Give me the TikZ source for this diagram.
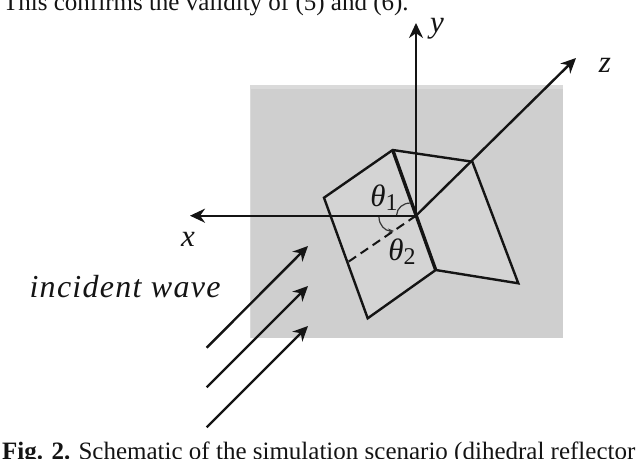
\documentclass[tikz,border=0pt]{standalone}
\usepackage{fontspec}
\setmainfont{Liberation Serif}
\usetikzlibrary{arrows.meta}
\definecolor{plate}{HTML}{CFCFCF}
\definecolor{plateedge}{HTML}{DADADA}
\definecolor{panel}{HTML}{D4D4D4}
\definecolor{ink}{HTML}{141414}
\tikzset{
  axis/.style={draw=ink,line width=2.4pt,-{Stealth[length=15pt,width=14pt]}},
  wave/.style={draw=ink,line width=2.4pt,-{Stealth[length=15pt,width=14pt]}},
  edge/.style={draw=ink,line width=2.4pt,line join=miter},
  fold/.style={draw=ink,line width=3.4pt},
  angarc/.style={draw=ink!85,line width=1.2pt},
  lab/.style={inner sep=0pt,text=ink,font=\itshape\fontsize{31}{34}\selectfont},
  caption/.style={inner sep=0pt,anchor=base west,text=ink,font=\fontsize{25}{28}\selectfont}
}
\begin{document}
\begin{tikzpicture}[x=1pt,y=-1pt]
\useasboundingbox (0,0) rectangle (640,458);
\clip (0,0) rectangle (640,458);
\fill[white] (0,0) rectangle (640,458);
\fill[plateedge] (250,85) rectangle (563,338);
\fill[plate] (251,89) rectangle (563,338);
\coordinate (O) at (416,215.7);
\coordinate (A) at (392.7,150);
\coordinate (B) at (324,197.7);
\coordinate (C) at (367.7,318.3);
\coordinate (D) at (435.7,270);
\coordinate (E) at (518.3,283.3);
\coordinate (F) at (472.3,161.7);
\coordinate (Dash) at (348.5,261.7);
\coordinate (Yend) at (416,23);
\coordinate (Xend) at (190,215.7);
\coordinate (Zend) at (576,58);
\fill[panel] (A) -- (B) -- (C) -- (D) -- (E) -- (F) -- cycle;
\draw[axis] (O) -- (Yend);
\draw[axis] (O) -- (Xend);
\draw[axis] (O) -- (Zend);
\draw[edge] (A) -- (B) -- (C) -- (D) -- (E) -- (F) -- cycle;
\draw[fold] (A) -- (D);
\draw[draw=ink,line width=2pt,dash pattern=on 9pt off 5.5pt] (O) -- (Dash);
\draw[angarc] (396.6,215) .. controls (397,208) and (403,203) .. (410.5,203);
\draw[angarc,-{Stealth[length=6pt,width=5pt]}] (379,217) .. controls (379,225) and (385,231) .. (394,231);
\node[lab] (ly) at (437,29) {y};
\node[lab] (lz) at (605,65) {z};
\node[lab] (lx) at (188,239) {x};
\node[lab] (t1) at (384,198) {θ\raisebox{-4pt}{\upshape\fontsize{24}{26}\selectfont 1}};
\node[lab] (t2) at (402,252) {θ\raisebox{-4pt}{\upshape\fontsize{24}{26}\selectfont 2}};
\node[lab,font=\itshape\fontsize{32}{34}\selectfont\addfontfeature{LetterSpace=4}] (inc) at (125,287) {incident wave};
\coordinate (W1a) at (206.7,347.7); \coordinate (W1b) at (308,246);
\coordinate (W2a) at (206.7,387.3); \coordinate (W2b) at (308,286);
\coordinate (W3a) at (206.7,427.3); \coordinate (W3b) at (308,326);
\draw[wave] (W1a) -- (W1b);
\draw[wave] (W2a) -- (W2b);
\draw[wave] (W3a) -- (W3b);
\node[caption] (top) at (3,10) {This confirms the validity of (5) and (6).};
\node[caption] (bot) at (2,459) {\textbf{Fig. 2.} Schematic of the simulation scenario (dihedral reflector};
\end{tikzpicture}
\end{document}
